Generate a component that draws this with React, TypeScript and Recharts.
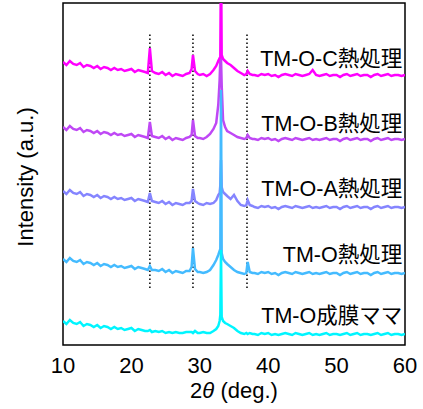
import React from 'react';
import { LineChart, Line, XAxis, YAxis, ReferenceLine, ReferenceArea, ReferenceDot } from 'recharts';

// 2θ grid (deg.)
const twoTheta = [
  10, 10.5, 11, 11.5, 12, 12.5, 13, 13.5, 14, 14.5, 15, 15.5, 16, 16.5, 17, 17.5, 18, 18.5, 19, 19.5, 20, 20.5, 21, 21.5, 22,
  22.4, 22.7, 23.0,
  23.5, 24, 24.5, 25, 25.5, 26, 26.5, 27, 27.5, 28, 28.5,
  28.8, 29.0, 29.3, 29.7,
  30, 30.5, 31, 31.5, 32,
  32.4, 32.7, 32.9, 33.0, 33.1, 33.2, 33.4, 33.7, 34.0,
  34.5, 35, 35.5, 36, 36.5,
  36.8, 37.0, 37.3, 37.7,
  38, 38.5, 39, 39.5, 40, 40.5, 41, 41.5, 42, 42.5, 43, 43.5, 44, 44.5, 45, 45.5, 46, 46.5, 47, 47.5,
  48, 48.5, 49, 49.5, 50, 50.5, 51, 51.5, 52, 52.5, 53, 53.5, 54, 54.5, 55, 55.5, 56, 56.5, 57, 57.5,
  58, 58.5, 59, 59.5, 60,
];

// TM-O-C 熱処理 (offset intensity, a.u.)
const seriesC = [
  283, 280, 284, 281, 280, 282, 278, 280, 279, 277, 279, 276, 278, 277, 275, 277, 275, 276, 274, 275, 276, 273, 275, 274, 273,
  272, 297, 274,
  272, 271, 273, 270, 272, 269, 271, 270, 269, 271, 272,
  276, 290, 274, 271,
  270, 271, 269, 271, 275,
  279, 284, 287, 288, 400, 290, 286, 284, 282,
  280, 277, 274, 272, 270,
  271, 274, 271, 270,
  270, 269, 271, 270, 271, 269, 270, 268, 270, 271, 270, 269, 271, 270, 269, 270, 271, 275, 270, 269,
  270, 271, 269, 270, 270, 268, 270, 271, 269, 270, 271, 269, 270, 270, 268, 270, 271, 269, 270, 271,
  269, 270, 270, 269, 270,
];

// TM-O-B 熱処理
const seriesB = [
  218, 215, 219, 216, 215, 217, 213, 215, 214, 212, 214, 211, 213, 212, 210, 212, 210, 211, 209, 210, 211, 208, 210, 209, 208,
  207, 223, 209,
  208, 207, 209, 206, 208, 205, 207, 206, 205, 207, 208,
  210, 225, 209, 207,
  207, 206, 208, 211, 216,
  222, 240, 265, 286, 288, 260, 225, 218, 214,
  212, 210, 208, 207, 206,
  207, 210, 207, 206,
  206, 205, 207, 206, 207, 205, 206, 204, 206, 207, 206, 205, 207, 206, 205, 206, 207, 205, 206, 205,
  206, 207, 205, 206, 206, 204, 206, 207, 205, 206, 207, 205, 206, 206, 204, 206, 207, 205, 206, 207,
  205, 206, 206, 205, 206,
];

// TM-O-A 熱処理
const seriesA = [
  154, 151, 155, 152, 151, 153, 149, 151, 150, 148, 150, 147, 149, 148, 146, 148, 146, 147, 145, 146, 147, 144, 146, 145, 144,
  143, 152, 144,
  143, 142, 144, 141, 143, 140, 142, 141, 140, 142, 142,
  144, 156, 144, 142,
  141, 140, 142, 141, 142,
  145, 150, 152, 160, 185, 158, 153, 151, 149,
  146, 150, 144, 140, 139,
  140, 145, 140, 139,
  138, 137, 139, 138, 139, 137, 138, 136, 138, 139, 138, 137, 139, 138, 137, 138, 139, 137, 138, 137,
  138, 139, 137, 138, 138, 136, 138, 139, 137, 138, 139, 137, 138, 138, 136, 138, 139, 137, 138, 139,
  137, 138, 138, 137, 138,
];

// TM-O 熱処理
const seriesO = [
  86, 83, 87, 84, 83, 85, 81, 83, 82, 80, 82, 79, 81, 80, 78, 80, 78, 79, 77, 78, 79, 76, 78, 77, 76,
  75, 79, 75,
  75, 74, 76, 73, 75, 72, 74, 73, 72, 74, 74,
  78, 97, 76, 73,
  73, 72, 73, 75, 80,
  85, 90, 94, 96, 255, 92, 86, 83, 81,
  78, 75, 73, 72, 71,
  72, 83, 73, 72,
  72, 71, 73, 72, 73, 71, 72, 70, 72, 73, 72, 71, 73, 72, 71, 72, 73, 71, 72, 71,
  72, 73, 71, 72, 72, 70, 72, 73, 71, 72, 73, 71, 72, 72, 70, 72, 73, 71, 72, 73,
  71, 72, 72, 71, 72,
];

// TM-O 成膜ママ
const seriesRaw = [
  24, 21, 25, 22, 21, 23, 19, 21, 20, 18, 20, 17, 19, 18, 16, 18, 16, 17, 15, 16, 17, 14, 16, 15, 14,
  14, 15, 13,
  14, 13, 14, 12, 13, 12, 13, 12, 12, 13, 13,
  13, 12, 14, 12,
  12, 13, 12, 12, 14,
  16, 19, 24, 30, 95, 28, 24, 22, 21,
  19, 17, 14, 12, 11,
  12, 11, 12, 11,
  11, 10, 12, 11, 12, 10, 11, 10, 11, 12, 11, 10, 12, 11, 10, 11, 12, 10, 11, 10,
  11, 12, 10, 11, 11, 10, 11, 12, 10, 11, 12, 10, 11, 11, 10, 11, 12, 10, 11, 12,
  10, 11, 11, 10, 11,
];

const refPeaks = [22.7, 29.0, 36.9];
const xTicks = [10, 20, 30, 40, 50, 60];
const labels = ['TM-O-C熱処理', 'TM-O-B熱処理', 'TM-O-A熱処理', 'TM-O熱処理', 'TM-O成膜ママ'];
const labelLevels = [286, 221, 156, 90, 29];

const data = twoTheta.map((x, i) => ({
  x,
  c: seriesC[i],
  b: seriesB[i],
  a: seriesA[i],
  o: seriesO[i],
  r: seriesRaw[i],
}));

const FONT = "'Liberation Sans', Arial, 'Noto Sans CJK JP', sans-serif";

export default function App() {
  return (
    <div style={{ position: 'absolute', left: 0, top: 0 }}>
      <LineChart width={423} height={409} data={data} margin={{ top: 3, right: 18, bottom: 0, left: 0 }}>
        <XAxis
          dataKey="x"
          type="number"
          domain={[10, 60]}
          ticks={xTicks}
          allowDataOverflow
          axisLine={false}
          tickLine={false}
          tickMargin={6}
          height={64}
          tick={{ fill: '#000', fontSize: 22, fontFamily: FONT }}
          label={{
            content: () => (
              <text x={234} y={398} textAnchor="middle" fontSize={22} fontFamily={FONT} fill="#000">
                2<tspan fontStyle="italic">θ</tspan> (deg.)
              </text>
            ),
          }}
        />
        <YAxis
          type="number"
          domain={[0, 342]}
          allowDataOverflow
          width={63}
          tick={false}
          axisLine={false}
          tickLine={false}
          label={{
            content: () => (
              <text
                x={33}
                y={177}
                transform="rotate(-90 33 177)"
                textAnchor="middle"
                fontSize={22}
                fontFamily={FONT}
                fill="#000"
              >
                Intensity (a.u.)
              </text>
            ),
          }}
        />
        {refPeaks.map((p) => (
          <ReferenceLine
            key={p}
            segment={[{ x: p, y: 57 }, { x: p, y: 313 }]}
            stroke="#000"
            strokeWidth={1.5}
            strokeDasharray="1.5 2.5"
          />
        ))}
        <Line dataKey="b" stroke="#bf48f5" strokeWidth={2.5} dot={false} isAnimationActive={false} />
        <Line dataKey="a" stroke="#8585ff" strokeWidth={2.5} dot={false} isAnimationActive={false} />
        <Line dataKey="o" stroke="#44bbff" strokeWidth={2.5} dot={false} isAnimationActive={false} />
        <Line dataKey="r" stroke="#00f5ff" strokeWidth={2.5} dot={false} isAnimationActive={false} />
        <Line dataKey="c" stroke="#ff00ff" strokeWidth={2.5} dot={false} isAnimationActive={false} />
        {labels.map((t, i) => (
          <ReferenceDot
            key={t}
            x={59.6}
            y={labelLevels[i]}
            r={0}
            shape={(props: any) => (
              <text
                x={props.cx}
                y={props.cy}
                textAnchor="end"
                dominantBaseline="central"
                fontSize={21.5}
                fontFamily={FONT}
                fill="#000"
              >
                {t}
              </text>
            )}
          />
        ))}
        <ReferenceArea x1={10} x2={60} y1={0} y2={342} fill="none" stroke="#000" strokeWidth={1.5} />
      </LineChart>
    </div>
  );
}
